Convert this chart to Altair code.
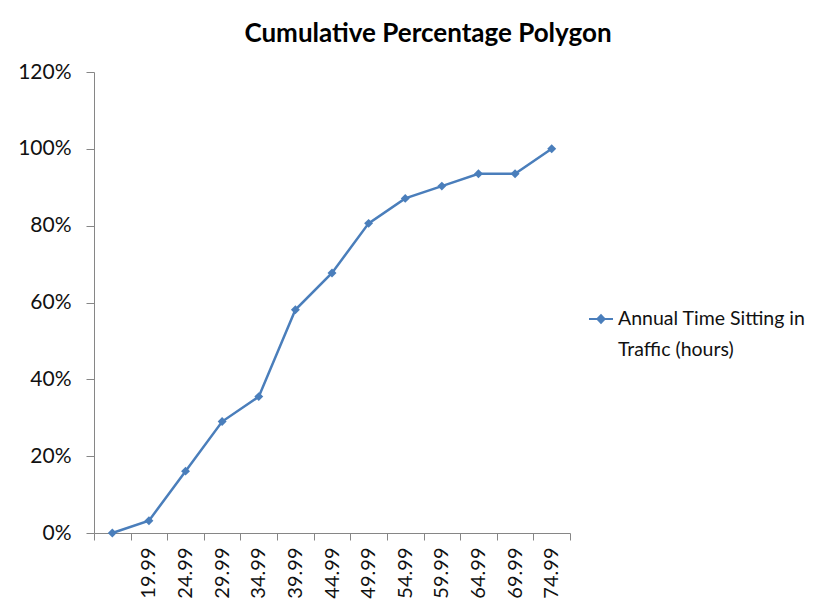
import altair as alt
import pandas as pd

categories = [" ", "19.99", "24.99", "29.99", "34.99", "39.99", "44.99",
              "49.99", "54.99", "59.99", "64.99", "69.99", "74.99"]
cum_pct = [0.0, 0.032, 0.161, 0.290, 0.355, 0.581, 0.677,
           0.806, 0.871, 0.903, 0.935, 0.935, 1.0]
series_name = "Annual Time Sitting in Traffic (hours)"
y_ticks = [0, 0.2, 0.4, 0.6, 0.8, 1.0, 1.2]

df = pd.DataFrame({"cat": categories, "pct": cum_pct, "series": series_name})

blue = "#4a7ebb"
FONT = "Lato"

x = alt.X("cat:N", sort=categories, title=None,
          scale=alt.Scale(paddingInner=0, paddingOuter=0),
          axis=alt.Axis(labelAngle=270, tickBand="extent", labelFontSize=20,
                        labelColor="#111111", labelFont=FONT, labelPadding=7,
                        domainColor="#868686", tickColor="#868686", tickSize=7,
                        grid=False))
y = alt.Y("pct:Q", title=None,
          scale=alt.Scale(domain=[0, 1.2], nice=False),
          axis=alt.Axis(values=y_ticks, format=".0%", labelFontSize=21,
                        labelColor="#111111", labelFont=FONT, labelPadding=15,
                        domainColor="#868686", tickColor="#868686", tickSize=8,
                        grid=False))
color = alt.Color("series:N", scale=alt.Scale(range=[blue]),
                  legend=alt.Legend(
                      title=None, orient="none", legendX=494, legendY=234,
                      symbolType="M-1,0L1,0M-0.3,0L0,-0.32L0.3,0L0,0.32Z",
                      symbolSize=576, symbolStrokeWidth=2,
                      symbolFillColor=blue, symbolStrokeColor=blue,
                      labelFontSize=19.5, labelFont=FONT, labelColor="#111111",
                      labelLimit=400, labelOffset=4,
                      labelExpr="['Annual Time Sitting in', 'Traffic (hours)']"))

base = alt.Chart(df).encode(x=x, y=y, color=color)
line = base.mark_line(strokeWidth=2.5)
pts = base.mark_point(shape="diamond", filled=True, size=80, opacity=1)

chart = alt.layer(line, pts).properties(
    width=476, height=461,
    title=alt.TitleParams("Cumulative Percentage Polygon", fontSize=26,
                          font=FONT, fontWeight="bold", color="#000000",
                          anchor="middle", dx=96, offset=14),
    padding={"left": 86, "top": 64, "right": 260, "bottom": 70},
    autosize=alt.AutoSizeParams(type="none"),
).configure(style={"guide-label": {"lineHeight": 31}},
            view=alt.ViewConfig(stroke=None))

chart.save("out.html", embed_options={"renderer": "svg", "actions": False})
